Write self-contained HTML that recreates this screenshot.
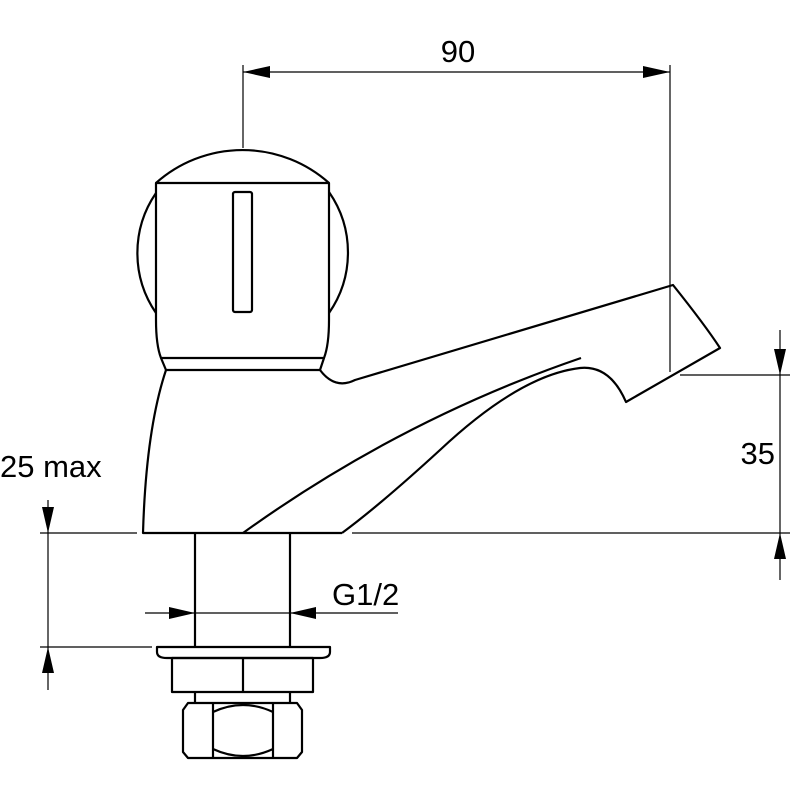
<!DOCTYPE html>
<html><head><style>body{margin:0;background:#fff}svg{display:block}</style></head><body>
<svg width="800" height="800" viewBox="0 0 800 800" xmlns="http://www.w3.org/2000/svg" font-family="Liberation Sans, sans-serif">
<g fill="none" stroke="#000" stroke-width="2.2" stroke-linejoin="round">
<path d="M156,183 A130,130 0 0 1 329,183"/>
<path d="M156,193 A106,106 0 0 0 156,313"/>
<path d="M329,192 A106,106 0 0 1 329,313"/>
<path d="M156,183 L329,183 L329,320 Q329,345 324,358 L161,358 Q156,345 156,320 Z"/>
<path d="M161,358 L166,370 L320,370 L324,358"/>
<rect x="233" y="192" width="19" height="120" rx="2"/>
<path d="M166,370 Q146,430 143,533 L342,533"/>
<path d="M320,370 Q335,390 355,380 L673,285 Q705,325 720,348 L626,402 Q610,365 580,368 Q520,375 440,450 Q380,505 342,533"/>
<path d="M243,533 Q400,420 581,358"/>
<path d="M195,533 L195,647 M290,533 L290,647"/>
<path d="M157,647 L330,647 L330,652 Q330,658 320,658 L167,658 Q157,658 157,652 Z"/>
<rect x="172" y="658" width="141" height="34"/>
<path d="M243,658 L243,692"/>
<path d="M195,692 L195,703 M290,692 L290,703"/>
<path d="M188,703 L297,703 L302,710 L302,752 L297,758 L188,758 L183,752 L183,710 Z"/>
<path d="M213,703 L213,758 M273,703 L273,758"/>
<path d="M213,712 Q243,698 273,712 M213,749 Q243,763 273,749"/>
</g>
<g fill="none" stroke="#000" stroke-width="1.2">
<path d="M243,65 L243,148 M670,65 L670,372 M243,72 L670,72"/>
<path d="M680,375 L790,375 M352,533 L790,533 M780,330 L780,580"/>
<path d="M40,533 L137,533 M40,647 L152,647 M48,500 L48,690"/>
<path d="M145,613 L398,613"/>
</g>
<g fill="#000">
<path d="M243,72 L270,66 L270,78 Z"/>
<path d="M670,72 L643,66 L643,78 Z"/>
<path d="M780,375 L774,349 L786,349 Z"/>
<path d="M780,533 L774,559 L786,559 Z"/>
<path d="M48,533 L42,507 L54,507 Z"/>
<path d="M48,647 L42,673 L54,673 Z"/>
<path d="M195,613 L169,607 L169,619 Z"/>
<path d="M290,613 L316,607 L316,619 Z"/>
</g>
<g font-size="31" fill="#000">
<text x="458" y="62" text-anchor="middle">90</text>
<text x="775" y="464" text-anchor="end">35</text>
<text x="0" y="477">25 max</text>
<text x="332" y="605">G1/2</text>
</g>
</svg>
</body></html>
